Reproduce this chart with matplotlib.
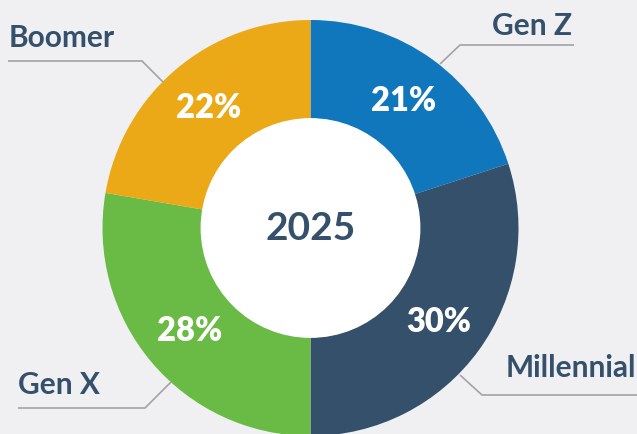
import matplotlib
matplotlib.use("Agg")
import matplotlib.pyplot as plt

# data (wedge sizes read from the ring, labels as printed)
generations = ['Gen Z', 'Millennial', 'Gen X', 'Boomer']
shares = [20.0, 30.0, 27.7, 22.3]
pct_labels = ['21%', '30%', '28%', '22%']
year = '2025'

colors = ['#1077bd', '#34506b', '#6abb45', '#eba918']
BG = '#f0f0f2'
TEXT = '#34506b'
LINE = '#a3a3a6'

W, H = 637, 435
CX, CY, R = 310.5, 229, 208      # donut centre / outer radius (pixels, y down)
HOLE = 0.525

plt.rcParams['font.family'] = ['Lato', 'DejaVu Sans']

fig = plt.figure(figsize=(W / 100, H / 100), dpi=100, facecolor=BG)
ax = fig.add_axes([0, 0, 1, 1])
ax.set_facecolor(BG)


def py(y):
    # pixel row -> data y
    return H - y


wedges, texts = ax.pie(
    shares, colors=colors, startangle=90, counterclock=False,
    center=(CX, py(CY)), radius=R,
    labels=pct_labels, labeldistance=(1 + HOLE) / 2,
    wedgeprops=dict(width=R * (1 - HOLE), linewidth=0),
    textprops=dict(color='white', fontsize=23.5, fontweight='heavy'),
    frame=True,
)
for t in texts:
    t.set_horizontalalignment('center')
    t.set_verticalalignment('center')
ax.set_xlim(0, W)
ax.set_ylim(0, H)
ax.set_aspect('equal')
ax.axis('off')

ax.add_patch(plt.Circle((CX, py(CY)), R * HOLE, color='white', zorder=3))
ax.text(CX, py(CY), year, ha='center', va='center', fontsize=28,
        fontweight='bold', color=TEXT, zorder=4)

# leader lines + labels (layout only)
leaders = {
    'Gen Z':      dict(pts=[(440, 65), (460, 46), (574, 46)], txt=(572, 26), ha='right'),
    'Millennial': dict(pts=[(460, 376), (482, 396), (640, 396)], txt=(506, 368), ha='left'),
    'Gen X':      dict(pts=[(171, 383), (145, 409), (18, 409)], txt=(18, 385), ha='left'),
    'Boomer':     dict(pts=[(163, 83), (142, 62), (8, 62)], txt=(9, 38), ha='left'),
}
for name in generations:
    lay = leaders[name]
    xs = [p[0] for p in lay['pts']]
    ys = [py(p[1]) for p in lay['pts']]
    ax.plot(xs, ys, color=LINE, linewidth=1.2, zorder=1, solid_capstyle='butt')
    ax.text(lay['txt'][0], py(lay['txt'][1]), name, ha=lay['ha'], va='center',
            fontsize=21.5, fontweight='bold', color=TEXT)

fig.savefig('out.png', dpi=100, facecolor=BG)
